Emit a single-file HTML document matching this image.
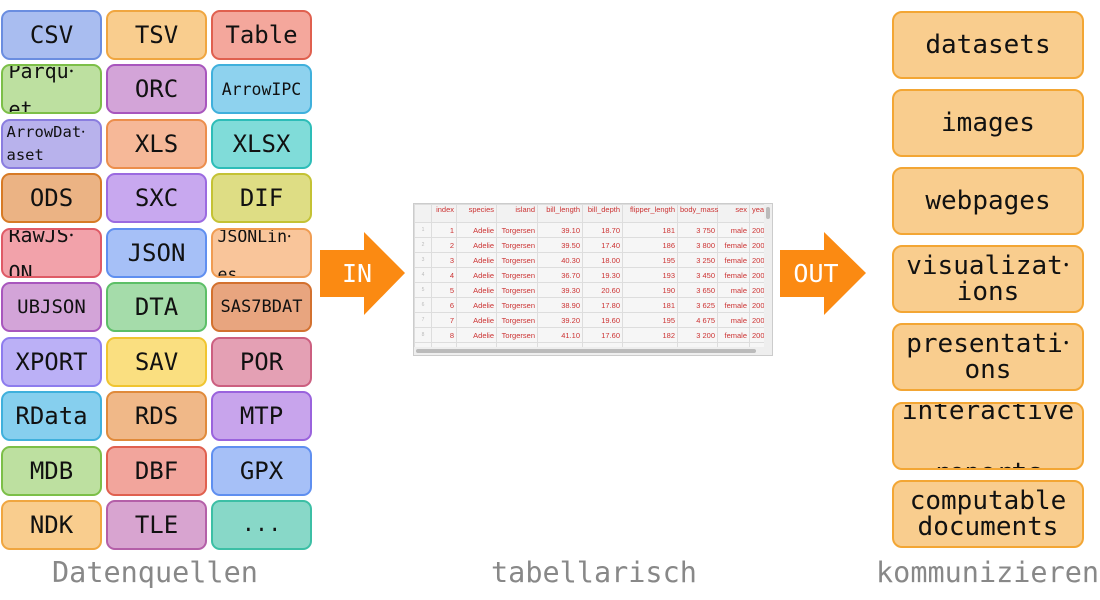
<!DOCTYPE html>
<html><head><meta charset="utf-8"><style>
body{margin:0;width:1100px;height:600px;background:#fff;position:relative;overflow:hidden;font-family:"DejaVu Sans Mono","Liberation Mono",monospace;color:#111}
.b{position:absolute;width:101px;height:50px;border:2px solid;border-radius:9px;box-sizing:border-box;display:flex;align-items:center;justify-content:center;font-size:24px;overflow:hidden;text-align:center}
.r{position:absolute;left:892px;width:192px;height:68px;border:2px solid #f3a634;background:#f9cd8e;border-radius:10px;box-sizing:border-box;display:flex;align-items:center;justify-content:center;font-size:26px;overflow:hidden;text-align:center;line-height:26px}
.lab{position:absolute;top:556px;font-size:28.5px;color:#888;white-space:nowrap}
table{border-collapse:collapse;font-family:"Liberation Sans",sans-serif;font-size:7.5px;color:#c33}
td{border:1px solid #ddd;height:14px;padding:0 2px;text-align:right;background:#f6f6f6}
th{border:1px solid #ddd;height:17px;font-weight:normal;text-align:right;padding:0 2px;background:#f2f2f2;color:#c33;vertical-align:top}
td.n{color:#bbb;text-align:center;font-size:5px}
</style></head><body>
<div class="b" style="left:1px;top:10px;background:#a9bdf0;border-color:#6a8de0">CSV</div>
<div class="b" style="left:106px;top:10px;background:#f9cd8e;border-color:#f0a640">TSV</div>
<div class="b" style="left:211px;top:10px;background:#f4a79c;border-color:#e0604f">Table</div>

<div class="b" style="left:1px;top:64px;background:#bde0a0;border-color:#7cbf48;font-size:20px;align-items:flex-start"><div style="margin-top:-14px;line-height:38px;text-align:left;width:86px">Parqu⸱<br>et</div></div>
<div class="b" style="left:106px;top:64px;background:#d3a4d8;border-color:#a856bd">ORC</div>
<div class="b" style="left:211px;top:64px;background:#8ed2ee;border-color:#3fb0dc;font-size:16.5px">ArrowIPC</div>

<div class="b" style="left:1px;top:119px;background:#b8b2ec;border-color:#8a7ddf;font-size:15.5px"><div style="line-height:23px;text-align:left;width:90px">ArrowDat⸱<br>aset</div></div>
<div class="b" style="left:106px;top:119px;background:#f6b898;border-color:#ec8e4c">XLS</div>
<div class="b" style="left:211px;top:119px;background:#80dcd9;border-color:#2dbdb8">XLSX</div>

<div class="b" style="left:1px;top:173px;background:#ebb384;border-color:#d77a25">ODS</div>
<div class="b" style="left:106px;top:173px;background:#c8a8ef;border-color:#9b6ae0">SXC</div>
<div class="b" style="left:211px;top:173px;background:#dedd84;border-color:#c4c234">DIF</div>

<div class="b" style="left:1px;top:228px;background:#f2a2aa;border-color:#df5a66;font-size:20px;align-items:flex-start"><div style="margin-top:-14px;line-height:38px;text-align:left;width:86px">RawJS⸱<br>ON</div></div>
<div class="b" style="left:106px;top:228px;background:#a6c0f7;border-color:#5f8ff0">JSON</div>
<div class="b" style="left:211px;top:228px;background:#f9c59a;border-color:#f09c52;font-size:16.5px;align-items:flex-start"><div style="margin-top:-12px;line-height:38px;text-align:left;width:88px">JSONLin⸱<br>es</div></div>

<div class="b" style="left:1px;top:282px;background:#d3a4d8;border-color:#a856bd;font-size:19px">UBJSON</div>
<div class="b" style="left:106px;top:282px;background:#a5dcaa;border-color:#5cbf67">DTA</div>
<div class="b" style="left:211px;top:282px;background:#e8a57f;border-color:#d3712f;font-size:17px">SAS7BDAT</div>

<div class="b" style="left:1px;top:337px;background:#bbb0f6;border-color:#8d7cee">XPORT</div>
<div class="b" style="left:106px;top:337px;background:#fadf80;border-color:#f0c530">SAV</div>
<div class="b" style="left:211px;top:337px;background:#e4a0b4;border-color:#cc5f80">POR</div>

<div class="b" style="left:1px;top:391px;background:#86cfee;border-color:#3fb0dc">RData</div>
<div class="b" style="left:106px;top:391px;background:#f0b888;border-color:#e08a3a">RDS</div>
<div class="b" style="left:211px;top:391px;background:#c8a4ec;border-color:#9a63dd">MTP</div>

<div class="b" style="left:1px;top:446px;background:#bde0a0;border-color:#7cbf48">MDB</div>
<div class="b" style="left:106px;top:446px;background:#f2a59c;border-color:#e0604f">DBF</div>
<div class="b" style="left:211px;top:446px;background:#a6c0f7;border-color:#5f8ff0">GPX</div>

<div class="b" style="left:1px;top:500px;background:#f9cd8e;border-color:#f0a640">NDK</div>
<div class="b" style="left:106px;top:500px;background:#d8a4d0;border-color:#b45fa8">TLE</div>
<div class="b" style="left:211px;top:500px;background:#88d8c8;border-color:#3cbfa5;font-family:'Liberation Mono',monospace;font-size:22px">...</div>

<svg style="position:absolute;left:0;top:0" width="1100" height="600">
<polygon points="320,250 364,250 364,232 405,273 364,315 364,297 320,297" fill="#fb8a12"/>
<polygon points="780,250 824,250 824,232 866,273 824,315 824,297 780,297" fill="#fb8a12"/>
<text x="357" y="282" font-family="DejaVu Sans Mono,monospace" font-size="25" fill="#fff" text-anchor="middle">IN</text>
<text x="816" y="282" font-family="DejaVu Sans Mono,monospace" font-size="25" fill="#fff" text-anchor="middle">OUT</text>
</svg>

<div style="position:absolute;left:413px;top:203px;width:360px;height:153px;border:1px solid #ccc;box-sizing:border-box;overflow:hidden;background:#f6f6f6">
<table style="position:absolute;left:0;top:0;width:352px;table-layout:fixed">
<colgroup><col style="width:17px"><col style="width:25px"><col style="width:40px"><col style="width:41px"><col style="width:45px"><col style="width:40px"><col style="width:55px"><col style="width:40px"><col style="width:32px"><col style="width:17px"></colgroup>
<tr><th></th><th>index</th><th>species</th><th>island</th><th>bill_length</th><th>bill_depth</th><th>flipper_length</th><th>body_mass</th><th>sex</th><th>year</th></tr>
<tr><td class="n">1</td><td>1</td><td>Adelie</td><td>Torgersen</td><td>39.10</td><td>18.70</td><td>181</td><td>3 750</td><td>male</td><td>2007</td></tr>
<tr><td class="n">2</td><td>2</td><td>Adelie</td><td>Torgersen</td><td>39.50</td><td>17.40</td><td>186</td><td>3 800</td><td>female</td><td>2007</td></tr>
<tr><td class="n">3</td><td>3</td><td>Adelie</td><td>Torgersen</td><td>40.30</td><td>18.00</td><td>195</td><td>3 250</td><td>female</td><td>2007</td></tr>
<tr><td class="n">4</td><td>4</td><td>Adelie</td><td>Torgersen</td><td>36.70</td><td>19.30</td><td>193</td><td>3 450</td><td>female</td><td>2007</td></tr>
<tr><td class="n">5</td><td>5</td><td>Adelie</td><td>Torgersen</td><td>39.30</td><td>20.60</td><td>190</td><td>3 650</td><td>male</td><td>2007</td></tr>
<tr><td class="n">6</td><td>6</td><td>Adelie</td><td>Torgersen</td><td>38.90</td><td>17.80</td><td>181</td><td>3 625</td><td>female</td><td>2007</td></tr>
<tr><td class="n">7</td><td>7</td><td>Adelie</td><td>Torgersen</td><td>39.20</td><td>19.60</td><td>195</td><td>4 675</td><td>male</td><td>2007</td></tr>
<tr><td class="n">8</td><td>8</td><td>Adelie</td><td>Torgersen</td><td>41.10</td><td>17.60</td><td>182</td><td>3 200</td><td>female</td><td>2007</td></tr>
<tr><td></td><td></td><td></td><td></td><td></td><td></td><td></td><td></td><td></td><td></td></tr>
</table>
<div style="position:absolute;right:0;top:0;width:8px;height:153px;background:#eee"></div>
<div style="position:absolute;right:2px;top:3px;width:4px;height:12px;background:#bbb;border-radius:2px"></div>
<div style="position:absolute;left:0;bottom:0;width:360px;height:8px;background:#eee"></div>
<div style="position:absolute;left:2px;bottom:2px;width:340px;height:4px;background:#bbb;border-radius:2px"></div>
</div>

<div class="r" style="top:11px">datasets</div>
<div class="r" style="top:89px">images</div>
<div class="r" style="top:167px">webpages</div>
<div class="r" style="top:245px"><div>visualizat⸱<br>ions</div></div>
<div class="r" style="top:323px"><div>presentati⸱<br>ons</div></div>
<div class="r" style="top:402px;align-items:flex-start"><div style="margin-top:-24px;line-height:62px">interactive<br>reports</div></div>
<div class="r" style="top:480px"><div>computable<br>documents</div></div>

<div class="lab" style="left:52px">Datenquellen</div>
<div class="lab" style="left:491px">tabellarisch</div>
<div class="lab" style="left:876px">kommunizieren</div>
</body></html>
